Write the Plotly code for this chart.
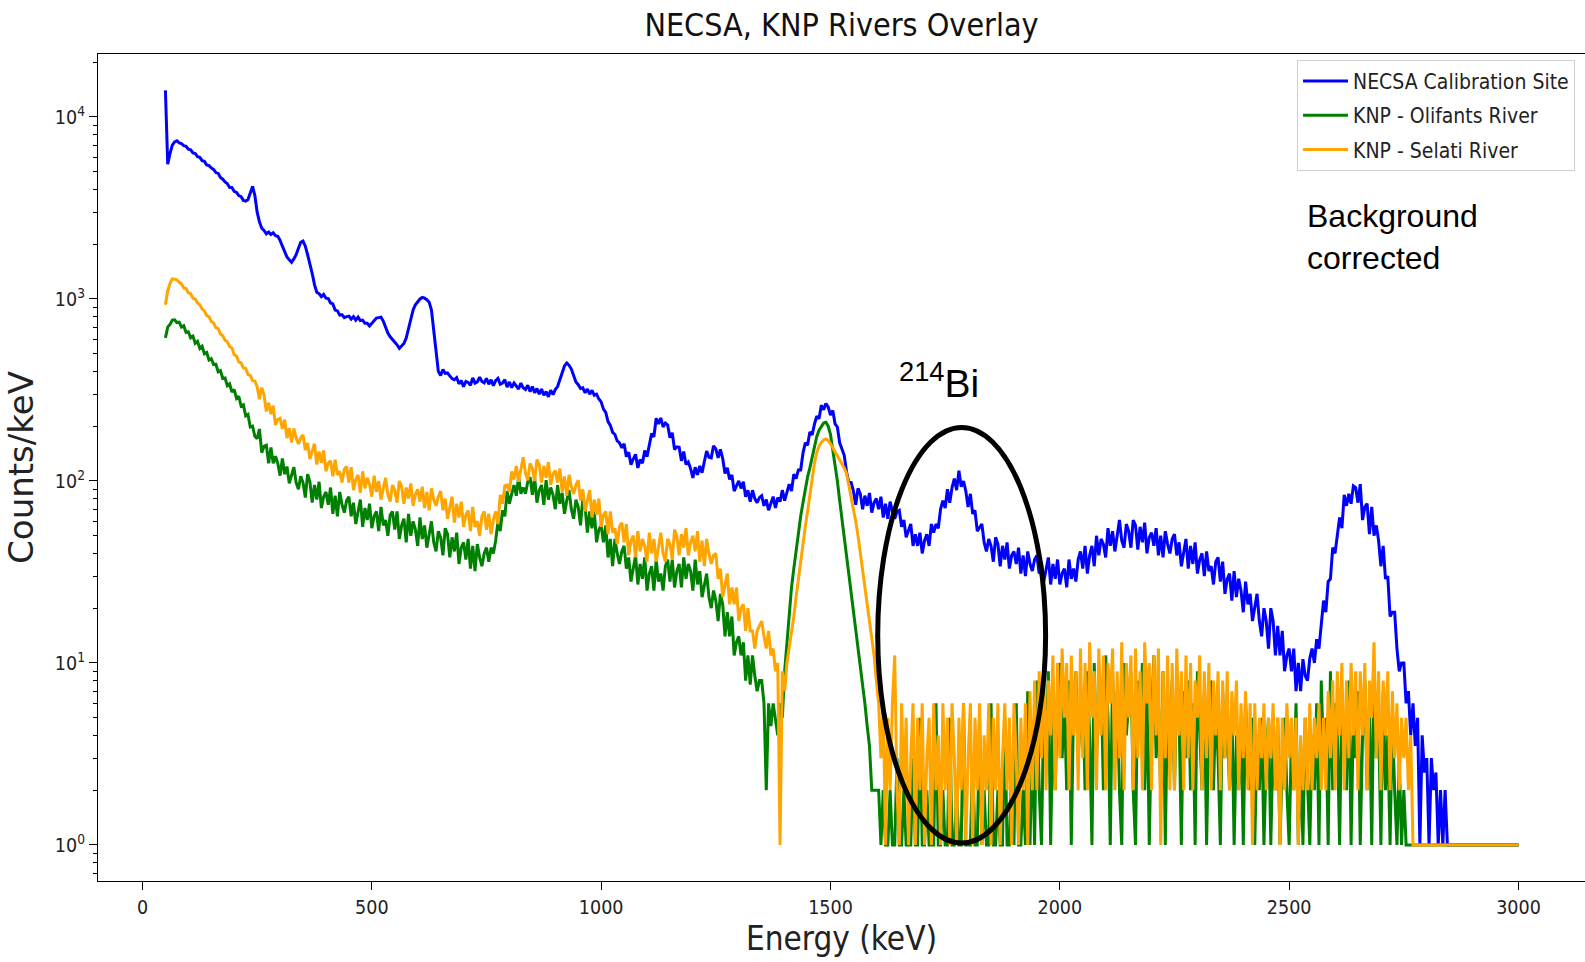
import math
import plotly.graph_objects as go

# Energy bins (keV), 5 keV spacing
ENERGY_KEV = list(range(50, 3001, 5))

# ---------------- NECSA Calibration Site (counts/keV) ----------------
NECSA_CAL = [
    14000, 5500, 6300, 7000, 7300, 7400, 7200, 7150, 6950, 6900, 6650, 6600, 6350, 6300, 6050, 6000, 5750, 5700, 5450, 5400,  # 50-145
    5250, 5150, 4950, 4900, 4650, 4550, 4400, 4300, 4100, 4100, 3900, 3850, 3700, 3650, 3480, 3450, 3520, 3800, 4150, 3700,  # 150-245
    3000, 2650, 2450, 2380, 2280, 2330, 2260, 2310, 2230, 2210, 2100, 1950, 1800, 1700, 1640, 1590, 1660, 1750, 1900, 2050,  # 250-345
    2080, 1950, 1750, 1580, 1380, 1200, 1090, 1070, 1030, 1060, 1010, 1005, 950, 940, 870, 860, 815, 820, 790, 800,  # 350-445
    805, 775, 800, 765, 795, 760, 765, 735, 735, 710, 735, 755, 785, 790, 795, 755, 700, 650, 620, 600,  # 450-545
    585, 560, 535, 555, 570, 610, 680, 780, 870, 930, 970, 1000, 1020, 1010, 990, 960, 870, 680, 500, 400,  # 550-645
    380, 410, 390, 392, 378, 365, 360, 370, 342, 356, 330, 352, 348, 335, 368, 345, 350, 372, 352, 346,  # 650-745
    366, 340, 360, 334, 356, 366, 340, 345, 360, 328, 350, 326, 345, 330, 320, 345, 325, 318, 336, 310,  # 750-845
    330, 305, 322, 300, 320, 296, 310, 290, 315, 298, 318, 330, 360, 395, 428, 445, 432, 412, 380, 350,  # 850-945
    338, 322, 325, 305, 320, 300, 315, 296, 300, 282, 272, 248, 238, 212, 202, 185, 180, 166, 162, 152,  # 950-1045
    160, 136, 144, 123, 132, 140, 118, 131, 125, 147, 136, 160, 182, 175, 221, 206, 222, 198, 208, 203,  # 1050-1145
    173, 184, 149, 154, 153, 129, 145, 123, 127, 117, 104, 119, 108, 121, 111, 128, 146, 135, 134, 156,  # 1150-1245
    150, 134, 149, 133, 110, 118, 102, 108, 88, 94, 100, 91, 99, 82, 89, 77, 89, 80, 76, 81,  # 1250-1345
    83, 73, 79, 69, 75, 82, 71, 81, 77, 89, 78, 88, 96, 88, 109, 103, 115, 115, 142, 162,  # 1350-1445
    157, 186, 179, 205, 227, 220, 261, 246, 266, 255, 230, 244, 206, 198, 162, 150, 138, 112, 98, 98,  # 1450-1545
    88, 74, 91, 85, 70, 83, 73, 86, 67, 76, 80, 70, 82, 63, 75, 62, 77, 68, 62, 68,  # 1550-1645
    69, 56, 61, 49, 54, 58, 44, 51, 44, 52, 40, 47, 51, 44, 58, 52, 58, 55, 70, 78,  # 1650-1745
    71, 90, 76, 92, 103, 89, 114, 93, 100, 88, 72, 85, 66, 69, 53, 56, 58, 46, 41, 48,  # 1750-1845
    44, 36, 49, 45, 34, 44, 37, 46, 33, 39, 41, 35, 43, 31, 39, 30, 41, 35, 32, 37,  # 1850-1945
    39, 31, 36, 28, 33, 38, 27, 35, 29, 37, 27, 31, 33, 26, 37, 29, 33, 28, 37, 41,  # 1950-2045
    33, 44, 31, 39, 44, 34, 50, 39, 48, 45, 38, 55, 44, 53, 41, 51, 61, 47, 43, 58,  # 2050-2145
    53, 43, 61, 57, 42, 56, 46, 59, 40, 49, 52, 44, 55, 39, 50, 38, 53, 45, 40, 48,  # 2150-2245
    51, 39, 46, 34, 41, 48, 33, 44, 35, 46, 31, 37, 40, 30, 41, 32, 34, 27, 36, 38,  # 2250-2345
    28, 36, 24, 29, 31, 22, 32, 23, 29, 25, 19, 28, 21, 24, 17, 20, 24, 17, 14, 20,  # 2350-2445
    17, 12, 20, 17, 11, 16, 11, 15, 9, 11, 12, 9, 12, 7, 10, 7, 10.5, 8.5, 8, 10.6,  # 2450-2545
    12, 10, 13.5, 12, 16, 22, 19, 28, 29, 43, 40, 51, 63, 55, 84, 73, 85, 75, 94, 92,  # 2550-2645
    76, 96, 61, 72, 75, 51, 72, 50, 57, 47, 34, 44, 29, 30, 18, 19, 19, 12, 9, 10,  # 2650-2745
    10, 6, 7, 4, 6, 3.5, 5, 1, 4, 2.5, 3, 1, 3, 2, 2.5, 1, 2, 1, 2, 1,  # 2750-2845
    1, 1, 1, 1, 1, 1, 1, 1, 1, 1, 1, 1, 1, 1, 1, 1, 1, 1, 1, 1,  # 2850-2945
    1, 1, 1, 1, 1, 1, 1, 1, 1, 1, 1,  # 2950-3000
]

# ---------------- KNP - Olifants River ----------------
KNP_OLIFANTS = [
    611, 700, 725, 765, 768, 742, 746, 700, 712, 655, 660, 612, 625, 570, 585, 535, 550, 500, 508, 462,  # 50-145
    470, 436, 438, 398, 404, 366, 368, 334, 342, 308, 318, 284, 292, 258, 262, 228, 232, 198, 200, 176,  # 150-245
    171, 193, 143, 155, 157, 125, 153, 125, 137, 125, 107, 133, 109, 120, 97, 108, 119, 98, 90, 106,  # 250-345
    98, 81, 109, 99, 76, 95, 79, 99, 71, 82, 87, 74, 92, 66, 83, 64, 87, 74, 67, 78,  # 350-445
    82, 64, 76, 58, 68, 79, 56, 71, 61, 75, 55, 64, 68, 53, 72, 57, 61, 50, 65, 68,  # 450-545
    54, 68, 48, 57, 62, 46, 66, 50, 60, 54, 44, 63, 48, 57, 43, 51, 60, 46, 41, 53,  # 550-645
    49, 39, 55, 51, 38, 49, 41, 52, 35, 43, 46, 37, 48, 33, 44, 32, 45, 38, 34, 40,  # 650-745
    43, 36, 43, 40, 47, 60, 53, 69, 64, 88, 75, 85, 95, 83, 105, 85, 92, 85, 99, 105,  # 750-845
    84, 104, 76, 89, 95, 74, 101, 79, 92, 84, 70, 95, 75, 86, 66, 78, 89, 70, 62, 79,  # 850-945
    72, 57, 80, 72, 52, 68, 55, 68, 46, 54, 57, 46, 57, 38, 48, 34, 48, 40, 35, 41,  # 950-1045
    44, 33, 38, 28, 34, 39, 27, 35, 29, 38, 25, 31, 34, 25, 37, 28, 31, 25, 34, 37,  # 1050-1145
    28, 37, 26, 32, 35, 26, 38, 29, 35, 32, 25, 37, 27, 32, 23, 27, 31, 23, 20, 25,  # 1150-1245
    22, 17, 24, 21, 14, 19, 14, 18, 11, 13, 14, 11, 13, 8, 11, 7.6, 11, 8.5, 7, 8,  # 1250-1345
    8, 6, 2, 6, 4.5, 6, 5, 4, 6, 5, 9, 13, 20, 26, 33, 42, 52, 64, 76, 90,  # 1350-1445
    105, 118, 135, 155, 175, 190, 200, 208, 210, 200, 180, 150, 126, 100, 78, 62, 48, 38, 30, 24,  # 1450-1545
    19, 15, 12, 10, 8, 6, 4.5, 3.5, 2, 2, 2, 2, 1, 2, 1, 1, 2, 1, 1, 3,  # 1550-1645
    1, 1, 2, 1, 1, 1, 3, 1, 1, 5, 1, 1, 2, 1, 1, 1, 6, 1, 1, 2,  # 1650-1745
    1, 1, 5, 1, 1, 2, 1, 1, 6, 1, 1, 1, 3, 1, 1, 5, 1, 2, 1, 1,  # 1750-1845
    6, 1, 1, 2, 1, 1, 5, 1, 1, 3, 1, 6, 1, 1, 2, 1, 7, 1, 4, 1,  # 1850-1945
    8, 2, 1, 6, 3, 9, 1, 5, 2, 7, 10, 3, 6, 2, 8, 1, 6, 9, 3, 5,  # 1950-2045
    7, 2, 9, 4, 1, 10, 3, 6, 8, 2, 11, 5, 1, 9, 3, 7, 2, 1, 10, 4,  # 2050-2145
    6, 9, 2, 1, 8, 4, 10, 2, 7, 1, 5, 11, 3, 6, 2, 9, 1, 7, 4, 8,  # 2150-2245
    2, 9, 5, 1, 7, 3, 8, 2, 6, 1, 9, 4, 2, 7, 1, 5, 8, 2, 6, 3,  # 2250-2345
    1, 7, 3, 5, 2, 6, 1, 4, 2, 5, 1, 6, 3, 2, 5, 1, 4, 2, 5, 1,  # 2350-2445
    3, 5, 1, 4, 2, 5, 1, 3, 5, 2, 1, 4, 2, 6, 1, 3, 1, 5, 2, 1,  # 2450-2545
    4, 2, 6, 1, 8, 3, 5, 1, 9, 2, 6, 4, 1, 7, 3, 2, 8, 1, 5, 3,  # 2550-2645
    7, 1, 4, 8, 2, 6, 1, 9, 3, 5, 1, 7, 2, 4, 1, 5, 2, 1, 3, 1,  # 2650-2745
    2, 1, 1, 1, 1, 1, 1, 1, 1, 1, 1, 1, 1, 1, 1, 1, 1, 1, 1, 1,  # 2750-2845
    1, 1, 1, 1, 1, 1, 1, 1, 1, 1, 1, 1, 1, 1, 1, 1, 1, 1, 1, 1,  # 2850-2945
    1, 1, 1, 1, 1, 1, 1, 1, 1, 1, 1,  # 2950-3000
]

# ---------------- KNP - Selati River ----------------
KNP_SELATI = [
    930, 1110, 1215, 1290, 1285, 1275, 1235, 1210, 1150, 1140, 1080, 1070, 1010, 1000, 950, 930, 880, 860, 810, 800,  # 50-145
    752, 738, 694, 688, 642, 628, 594, 582, 548, 538, 494, 486, 450, 446, 418, 416, 384, 380, 356, 354,  # 150-245
    330, 281, 326, 296, 241, 269, 233, 259, 203, 218, 221, 193, 217, 172, 195, 163, 194, 172, 160, 172,  # 250-345
    179, 148, 162, 132, 146, 160, 123, 145, 126, 147, 113, 125, 129, 106, 131, 108, 113, 98, 116, 120,  # 350-445
    98, 119, 89, 102, 108, 86, 113, 91, 104, 96, 82, 107, 87, 100, 79, 92, 104, 84, 77, 95,  # 450-545
    89, 76, 100, 93, 75, 92, 80, 97, 73, 84, 90, 77, 93, 71, 87, 69, 91, 79, 73, 82,  # 550-645
    88, 69, 80, 62, 72, 82, 59, 75, 63, 77, 56, 65, 69, 53, 72, 56, 60, 50, 64, 68,  # 650-745
    54, 66, 51, 61, 68, 58, 84, 75, 94, 95, 87, 113, 102, 121, 99, 117, 135, 110, 101, 125,  # 750-845
    117, 100, 131, 123, 98, 121, 104, 127, 95, 109, 114, 98, 117, 87, 106, 83, 108, 93, 85, 95,  # 850-945
    101, 78, 90, 68, 79, 89, 63, 79, 65, 80, 56, 65, 68, 51, 68, 52, 55, 45, 56, 59,  # 950-1045
    46, 58, 39, 47, 50, 38, 53, 41, 48, 44, 36, 52, 40, 48, 36, 44, 52, 40, 36, 48,  # 1050-1145
    45, 37, 54, 50, 39, 51, 43, 55, 39, 46, 50, 41, 53, 36, 47, 34, 48, 40, 35, 39,  # 1150-1245
    40, 29, 33, 23, 27, 31, 21, 26, 21, 26, 17, 20, 21, 15, 20, 15, 15, 12, 15, 16,  # 1250-1345
    17, 14, 12, 15, 11, 12, 9, 10, 1, 9, 7, 10, 12, 15, 18, 23, 29, 37, 46, 56,  # 1350-1445
    68, 85, 105, 125, 143, 155, 163, 168, 170, 167, 160, 152, 145, 138, 130, 125, 118, 110, 95, 80,  # 1450-1545
    70, 60, 50, 40, 32, 26, 21, 17, 13, 11, 8, 6, 3, 6, 1, 5, 2, 6, 11, 2,  # 1550-1645
    1, 6, 2, 5, 1, 3, 6, 1, 5, 2, 6, 1, 3, 5, 1, 6, 2, 4, 1, 6,  # 1650-1745
    2, 5, 1, 6, 3, 1, 5, 2, 6, 1, 3, 6, 1, 5, 2, 6, 1, 4, 2, 6,  # 1750-1845
    1, 5, 2, 6, 1, 3, 6, 2, 5, 1, 6, 3, 1, 5, 2, 6, 1, 7, 2, 8,  # 1850-1945
    2, 9, 3, 10, 2, 8, 4, 11, 2, 10, 3, 12, 5, 10, 2, 11, 4, 9, 2, 12,  # 1950-2045
    3, 10, 2, 13, 5, 9, 2, 12, 4, 11, 2, 10, 6, 12, 2, 9, 3, 13, 2, 10,  # 2050-2145
    5, 11, 2, 12, 3, 9, 2, 13, 6, 10, 2, 11, 4, 12, 1, 9, 3, 11, 2, 10,  # 2150-2245
    2, 12, 4, 9, 2, 11, 3, 10, 2, 8, 5, 11, 2, 9, 3, 10, 2, 8, 4, 9,  # 2250-2345
    2, 8, 3, 9, 2, 7, 4, 8, 2, 6, 3, 7, 2, 6, 1, 6, 2, 5, 3, 6,  # 2350-2445
    2, 5, 3, 6, 2, 5, 1, 5, 2, 6, 3, 5, 2, 5, 1, 4, 2, 5, 2, 6,  # 2450-2545
    2, 5, 3, 6, 2, 5, 2, 7, 3, 8, 2, 9, 4, 10, 2, 8, 3, 10, 4, 9,  # 2550-2645
    2, 9, 4, 10, 2, 8, 5, 13, 3, 9, 2, 8, 4, 9, 2, 7, 3, 6, 2, 5,  # 2650-2745
    3, 5, 2, 4, 1, 1, 1, 1, 1, 1, 1, 1, 1, 1, 1, 1, 1, 1, 1, 1,  # 2750-2845
    1, 1, 1, 1, 1, 1, 1, 1, 1, 1, 1, 1, 1, 1, 1, 1, 1, 1, 1, 1,  # 2850-2945
    1, 1, 1, 1, 1, 1, 1, 1, 1, 1, 1,  # 2950-3000
]

SERIES_NAMES = ["NECSA Calibration Site", "KNP - Olifants River", "KNP - Selati River"]
SERIES_COLORS = ["#0000ff", "#008000", "#ffa500"]

X_TICKS = [0, 500, 1000, 1500, 2000, 2500, 3000]
Y_TICKS = [1, 10, 100, 1000, 10000]
Y_TICKTEXT = ["10<sup>0</sup>", "10<sup>1</sup>", "10<sup>2</sup>", "10<sup>3</sup>", "10<sup>4</sup>"]
Y_MINOR = [0.7, 0.8, 0.9] + [m * 10 ** k for k in range(0, 4) for m in range(2, 10)] + [20000]

# Highlight region around the 214Bi 1764 keV line
ELLIPSE_KEV = (1603, 1969)
ELLIPSE_COUNTS = (1.026, 197)
BI_LABEL_POS = (1737, 355)
BG_LABEL_POS = (2535, 2190)

MPL_FONT = "DejaVu Sans Condensed, DejaVu Sans, sans-serif"
DEJAVU = "DejaVu Sans, sans-serif"
ARIAL = "Liberation Sans, Arial, sans-serif"

fig = go.Figure()
for vals, name, col in zip([NECSA_CAL, KNP_OLIFANTS, KNP_SELATI], SERIES_NAMES, SERIES_COLORS):
    fig.add_trace(go.Scatter(x=ENERGY_KEV, y=vals, mode="lines", name=name, legendgroup=name,
                             line=dict(color=col, width=3)))

fig.update_layout(
    width=1585, height=962,
    margin=dict(l=98, r=0, t=54, b=81),
    paper_bgcolor="white", plot_bgcolor="white",
    font=dict(family=MPL_FONT, color="#222222"),
    title=dict(text="NECSA, KNP Rivers Overlay", xref="paper", x=0.5, xanchor="center",
               yref="container", y=1 - 25 / 962, yanchor="middle",
               font=dict(family=MPL_FONT, size=32, color="#111111")),
    legend=dict(x=0.9933, y=0.993, xanchor="right", yanchor="top",
                bgcolor="white", bordercolor="#d0d0d0", borderwidth=1,
                tracegroupgap=4, itemwidth=45,
                font=dict(family=MPL_FONT, size=21, color="#222222")),
    xaxis=dict(range=[-97, 3145], tickvals=X_TICKS, ticks="outside", ticklen=8, tickwidth=1.3,
               tickcolor="black", showline=True, linecolor="black", linewidth=1.3, mirror=True,
               showgrid=False, zeroline=False, tickfont=dict(size=19.5),
               title=dict(text="Energy (keV)", font=dict(family=MPL_FONT, size=33), standoff=9)),
    yaxis=dict(type="log", range=[-0.198, 4.346], tickvals=Y_TICKS, ticktext=Y_TICKTEXT,
               ticks="outside", ticklen=8, tickwidth=1.3, tickcolor="black",
               showline=True, linecolor="black", linewidth=1.3, mirror=True,
               showgrid=False, zeroline=False, tickfont=dict(size=19.5),
               minor=dict(tickvals=Y_MINOR, ticks="outside", ticklen=4, tickcolor="black", tickwidth=1),
               title=dict(text="Counts/keV", font=dict(family=DEJAVU, size=34), standoff=10)),
)

fig.add_shape(type="circle", xref="x", yref="y",
              x0=ELLIPSE_KEV[0], x1=ELLIPSE_KEV[1],
              y0=ELLIPSE_COUNTS[0], y1=ELLIPSE_COUNTS[1],
              line=dict(color="black", width=5))

fig.add_annotation(x=BI_LABEL_POS[0], y=math.log10(BI_LABEL_POS[1]), xref="x", yref="y",
                   text="<sup>214</sup>Bi", showarrow=False,
                   font=dict(family=ARIAL, size=39, color="black"))
fig.add_annotation(x=BG_LABEL_POS[0], y=math.log10(BG_LABEL_POS[1]), xref="x", yref="y",
                   text="Background<br>corrected", showarrow=False, xanchor="left", align="left",
                   font=dict(family=ARIAL, size=32, color="black"))

fig.write_html("out.html")
